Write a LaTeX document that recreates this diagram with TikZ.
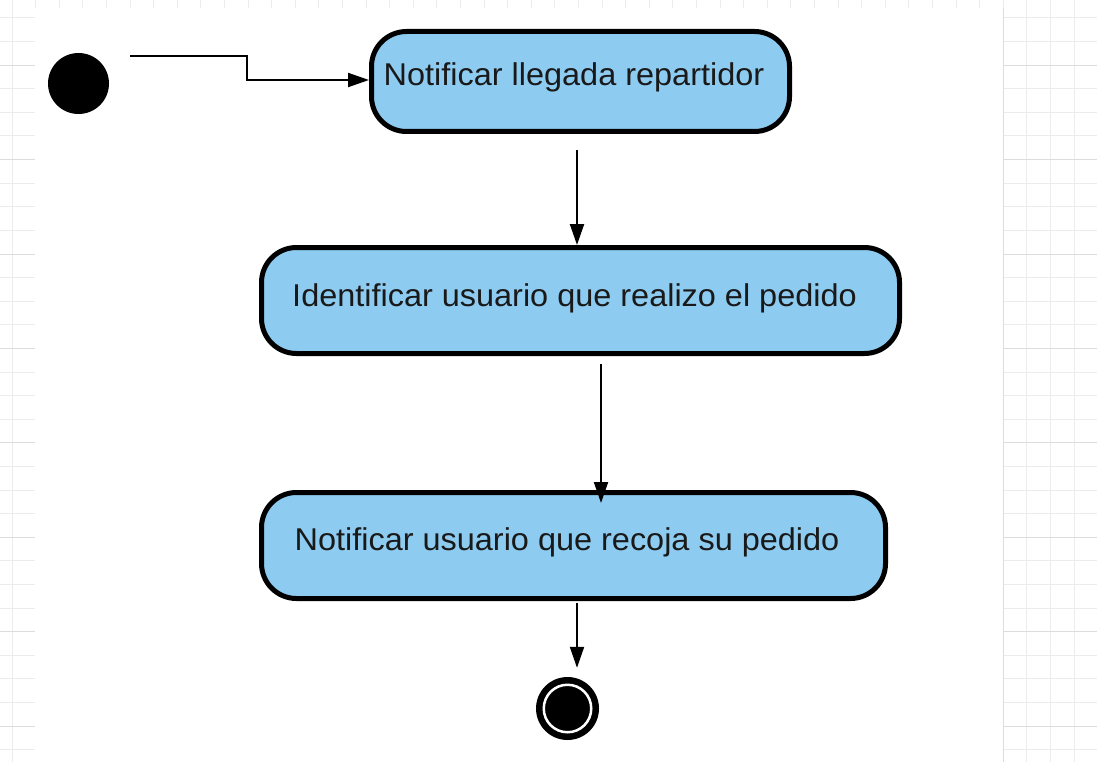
\documentclass[tikz,border=0pt]{standalone}
\usepackage{fontspec}
\setmainfont{Liberation Sans}
\newfontfamily\boxfont[FakeStretch=1.03]{Liberation Sans}
\usetikzlibrary{arrows.meta}
\definecolor{actfill}{RGB}{141,203,240}
\definecolor{gridc}{RGB}{236,236,236}
\definecolor{gridd}{RGB}{220,220,220}
\definecolor{txt}{RGB}{25,25,25}
\begin{document}
\begin{tikzpicture}[x=1pt,y=-1pt,
  action/.style={draw=black, line width=5pt, fill=actfill, rounded corners=35pt, inner sep=0pt},
  actlabel/.style={font=\boxfont\fontsize{31.5}{36}\selectfont, text=txt, anchor=base, inner sep=0pt},
  arr/.style={line width=2pt, -{Triangle[length=21pt,width=14pt]}},
  gridline/.style={gridc, line width=1pt},
  gridmajor/.style={gridd, line width=1pt},
]
\useasboundingbox (0,0) rectangle (1097,762);
\fill[white] (0,0) rectangle (1097,762);
% background grid
\foreach \k [evaluate=\k as \yy using 18+23.6*\k] in {0,...,31}
  \draw[gridline] (0,\yy) -- (1097,\yy);
\foreach \k [evaluate=\k as \xx using 12+23.6*\k] in {0,...,45}
  \draw[gridline] (\xx,0) -- (\xx,762);
\foreach \k [evaluate=\k as \yy using 18+23.6*\k] in {2,6,...,30}
  \draw[gridmajor] (0,\yy) -- (1097,\yy);
\fill[white] (35,8) rectangle (1003,762);
\draw[gridmajor] (1003,8) -- (1003,762);

% nodes
\node[circle, fill=black, minimum size=61pt, inner sep=0pt] (start) at (78.5,83.5) {};
\node[action, minimum width=418pt, minimum height=100pt] (b1) at (580.5,81.5) {};
\node[action, minimum width=638pt, minimum height=106pt] (b2) at (580.5,300.5) {};
\node[action, minimum width=624pt, minimum height=106pt] (b3) at (573.5,545.5) {};
\node[actlabel] (t1) at (574,86) {Notificar llegada repartidor};
\node[actlabel] (t2) at (574.5,306.5) {Identificar usuario que realizo el pedido};
\node[actlabel] (t3) at (567,550.5) {Notificar usuario que recoja su pedido};
\node[circle, fill=black, minimum size=63pt, inner sep=0pt] (end) at (567.5,708.5) {};
\draw[white, line width=2.5pt] (end.center) circle (23.75pt);

% connectors
\coordinate (a0) at (130,56);
\draw[arr] (a0) -- ++(117,0) |- ([yshift=1.5pt]b1.west);
\draw[arr, shorten <=16pt] ([xshift=-3.5pt]b1.south) -- ([xshift=-3.5pt]b2.north);
\draw[arr, shorten <=8pt, shorten >=-13pt] ([xshift=20.5pt]b2.south) -- ([xshift=27.5pt]b3.north);
\draw[arr, shorten <=2pt, shorten >=9pt] ([xshift=3.5pt]b3.south) -- ([xshift=9.5pt]end.north);
\end{tikzpicture}
\end{document}
